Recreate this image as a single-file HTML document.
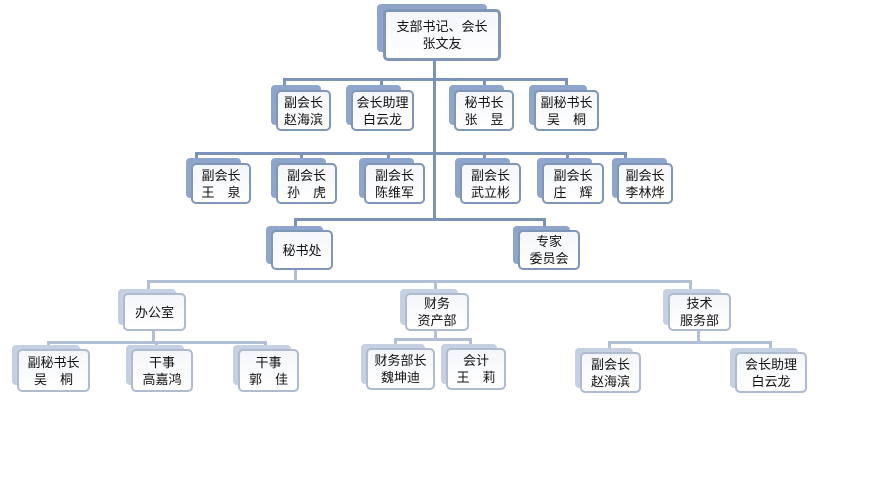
<!DOCTYPE html>
<html><head><meta charset="utf-8"><style>
body{margin:0;width:880px;height:485px;background:#fff;position:relative;overflow:hidden;font-family:"Liberation Sans","Noto Sans CJK SC",sans-serif}
.s{position:absolute;border-radius:4px;background:#8ea6cb}
.s.l{background:#c5d1e3}
.f{position:absolute;box-sizing:border-box;border:2px solid #7f96b8;border-radius:5px;background:linear-gradient(#f4f6fa,#ffffff);display:flex;align-items:center;justify-content:center;text-align:center;font-size:13px;line-height:17px;color:#111;white-space:pre}
.f.l{border-color:#aebbd0}
.h{position:absolute;background:#7b93b8}
.h.l{background:#b2c0d5}
</style></head><body>
<!-- lines -->
<div class="h" style="left:433px;top:58px;width:3px;height:162px"></div>
<div class="h" style="left:283px;top:78px;width:285px;height:3px"></div>
<div class="h" style="left:283px;top:78px;width:3px;height:12px"></div>
<div class="h" style="left:380px;top:78px;width:3px;height:12px"></div>
<div class="h" style="left:483px;top:78px;width:3px;height:12px"></div>
<div class="h" style="left:565px;top:78px;width:3px;height:12px"></div>
<div class="h" style="left:195px;top:152px;width:432px;height:3px"></div>
<div class="h" style="left:195px;top:152px;width:3px;height:10px"></div>
<div class="h" style="left:300px;top:152px;width:3px;height:10px"></div>
<div class="h" style="left:387px;top:152px;width:3px;height:10px"></div>
<div class="h" style="left:483px;top:152px;width:3px;height:10px"></div>
<div class="h" style="left:566px;top:152px;width:3px;height:10px"></div>
<div class="h" style="left:624px;top:152px;width:3px;height:10px"></div>
<div class="h" style="left:294px;top:218px;width:252px;height:3px"></div>
<div class="h" style="left:294px;top:218px;width:3px;height:10px"></div>
<div class="h" style="left:543px;top:218px;width:3px;height:10px"></div>
<div class="h l" style="left:294px;top:268px;width:3px;height:13px"></div>
<div class="h l" style="left:147px;top:280px;width:545px;height:3px"></div>
<div class="h l" style="left:147px;top:280px;width:3px;height:10px"></div>
<div class="h l" style="left:434px;top:280px;width:3px;height:10px"></div>
<div class="h l" style="left:689px;top:280px;width:3px;height:10px"></div>
<div class="h l" style="left:152px;top:330px;width:3px;height:12px"></div>
<div class="h l" style="left:47px;top:341px;width:220px;height:3px"></div>
<div class="h l" style="left:47px;top:341px;width:3px;height:7px"></div>
<div class="h l" style="left:155px;top:341px;width:3px;height:7px"></div>
<div class="h l" style="left:264px;top:341px;width:3px;height:7px"></div>
<div class="h l" style="left:434px;top:330px;width:3px;height:9px"></div>
<div class="h l" style="left:394px;top:338px;width:78px;height:3px"></div>
<div class="h l" style="left:394px;top:338px;width:3px;height:8px"></div>
<div class="h l" style="left:469px;top:338px;width:3px;height:8px"></div>
<div class="h l" style="left:697px;top:330px;width:3px;height:12px"></div>
<div class="h l" style="left:608px;top:341px;width:164px;height:3px"></div>
<div class="h l" style="left:608px;top:341px;width:3px;height:9px"></div>
<div class="h l" style="left:769px;top:341px;width:3px;height:9px"></div>

<!-- top -->
<div class="s" style="left:377px;top:4px;width:110px;height:48px"></div>
<div class="f" style="left:383px;top:9px;width:118px;height:52px;border-width:3px">支部书记、会长
张文友</div>
<!-- row2 -->
<div class="s" style="left:271px;top:85px;width:50px;height:40px"></div>
<div class="f" style="left:276px;top:90px;width:55px;height:41px">副会长
赵海滨</div>
<div class="s" style="left:346px;top:85px;width:55px;height:40px"></div>
<div class="f" style="left:351px;top:90px;width:63px;height:41px">会长助理
白云龙</div>
<div class="s" style="left:449px;top:85px;width:55px;height:40px"></div>
<div class="f" style="left:454px;top:90px;width:60px;height:41px">秘书长
张　昱</div>
<div class="s" style="left:529px;top:85px;width:58px;height:40px"></div>
<div class="f" style="left:534px;top:90px;width:65px;height:41px">副秘书长
吴　桐</div>
<!-- row3 -->
<div class="s" style="left:186px;top:158px;width:55px;height:40px"></div>
<div class="f" style="left:191px;top:163px;width:60px;height:41px">副会长
王　泉</div>
<div class="s" style="left:271px;top:158px;width:55px;height:40px"></div>
<div class="f" style="left:276px;top:163px;width:61px;height:41px">副会长
孙　虎</div>
<div class="s" style="left:359px;top:158px;width:55px;height:40px"></div>
<div class="f" style="left:364px;top:163px;width:61px;height:41px">副会长
陈维军</div>
<div class="s" style="left:455px;top:158px;width:55px;height:40px"></div>
<div class="f" style="left:460px;top:163px;width:61px;height:41px">副会长
武立彬</div>
<div class="s" style="left:537px;top:158px;width:55px;height:40px"></div>
<div class="f" style="left:542px;top:163px;width:62px;height:41px">副会长
庄　辉</div>
<div class="s" style="left:612px;top:158px;width:55px;height:40px"></div>
<div class="f" style="left:617px;top:163px;width:56px;height:41px">副会长
李林烨</div>
<!-- row4 -->
<div class="s" style="left:266px;top:226px;width:57px;height:38px"></div>
<div class="f" style="left:271px;top:230px;width:62px;height:40px">秘书处</div>
<div class="s" style="left:513px;top:226px;width:57px;height:38px"></div>
<div class="f" style="left:518px;top:230px;width:62px;height:40px">专家
委员会</div>
<!-- row5 -->
<div class="s l" style="left:118px;top:289px;width:58px;height:36px"></div>
<div class="f l" style="left:123px;top:293px;width:63px;height:38px">办公室</div>
<div class="s l" style="left:400px;top:289px;width:58px;height:36px"></div>
<div class="f l" style="left:405px;top:293px;width:64px;height:38px">财务
资产部</div>
<div class="s l" style="left:663px;top:289px;width:58px;height:36px"></div>
<div class="f l" style="left:668px;top:293px;width:63px;height:38px">技术
服务部</div>
<!-- row6 -->
<div class="s l" style="left:12px;top:345px;width:68px;height:40px"></div>
<div class="f l" style="left:17px;top:349px;width:73px;height:43px">副秘书长
吴　桐</div>
<div class="s l" style="left:126px;top:345px;width:58px;height:40px"></div>
<div class="f l" style="left:131px;top:349px;width:62px;height:43px">干事
高嘉鸿</div>
<div class="s l" style="left:233px;top:345px;width:58px;height:40px"></div>
<div class="f l" style="left:238px;top:349px;width:61px;height:43px">干事
郭　佳</div>
<div class="s l" style="left:361px;top:344px;width:64px;height:40px"></div>
<div class="f l" style="left:366px;top:348px;width:69px;height:42px">财务部长
魏坤迪</div>
<div class="s l" style="left:441px;top:344px;width:56px;height:40px"></div>
<div class="f l" style="left:446px;top:348px;width:60px;height:42px">会计
王　莉</div>
<div class="s l" style="left:575px;top:348px;width:58px;height:40px"></div>
<div class="f l" style="left:580px;top:352px;width:61px;height:41px">副会长
赵海滨</div>
<div class="s l" style="left:730px;top:348px;width:68px;height:40px"></div>
<div class="f l" style="left:735px;top:352px;width:72px;height:41px">会长助理
白云龙</div>
</body></html>
